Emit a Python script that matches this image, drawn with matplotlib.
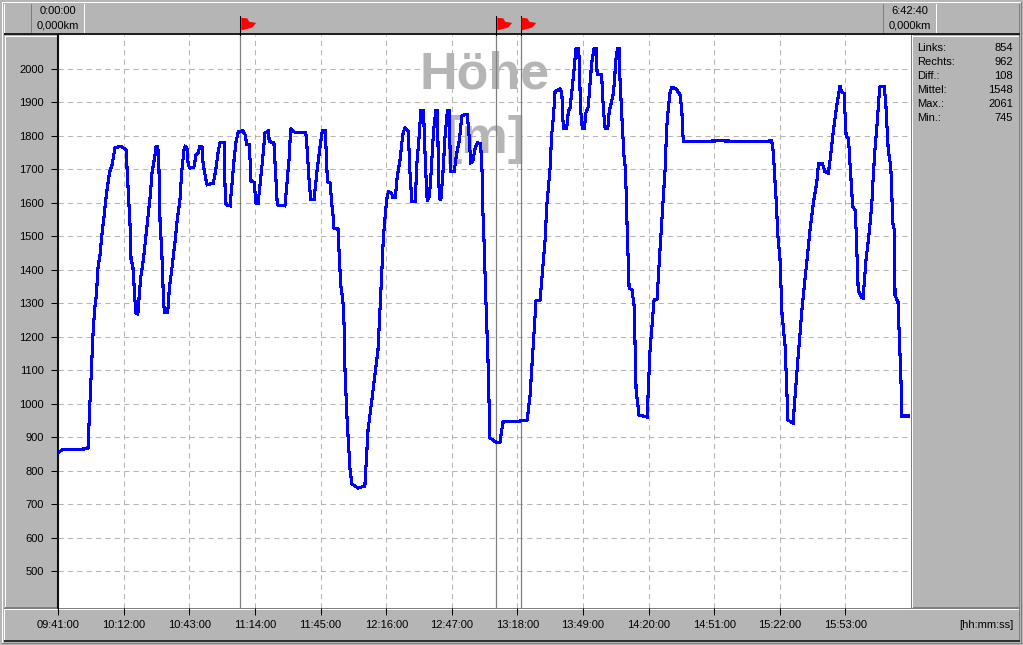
import matplotlib
matplotlib.use('Agg')
import matplotlib.pyplot as plt
from matplotlib.patches import Rectangle, Polygon

plt.rcParams['font.family'] = ['Liberation Sans', 'DejaVu Sans']

# minutes after 09:41:00
zeit = [0, 1.7, 14, 15, 16.5, 17.3, 18.1, 18.6, 19.7, 20.5, 21.6, 22.8, 24.2, 25.4, 26.8, 30, 32, 32.6, 33.3, 33.9,
        34.4, 35.2, 36.1, 36.6, 37.6, 38.2, 39, 40.2, 41.8, 43.4, 44.3, 45.7, 46.2, 47, 47.5, 48.1, 48.9, 49.6, 50.1, 51.7,
        52.5, 53.6, 55.1, 56.2, 57.5, 58.3, 59.4, 59.9, 60.8, 61.4, 62.2, 64.1, 65.1, 66.1, 66.9, 67.9, 68.5, 69.8, 70.4, 73.3,
        74.4, 75.7, 76.5, 78.4, 78.8, 79.3, 81.2, 82, 83.2, 84, 85.1, 87.2, 88.3, 89.1, 90.3, 91.1, 92.5, 93.5, 94.4, 95.4,
        96.3, 97.7, 99.3, 99.7, 101.9, 102.7, 103.5, 107.1, 108.2, 109.2, 109.8, 111.9, 117, 117.7, 118.6, 119.3, 120.9, 122.2, 123.7, 124.8,
        126.2, 127.2, 128.5, 129.3, 130, 130.3, 132.2, 132.8, 133.5, 134.5, 135.1, 135.5, 136.5, 137.9, 138.8, 141.7, 144.9, 146.4, 148.2, 151.1,
        152.5, 153.6, 154.4, 155.2, 156, 157.6, 158, 159.3, 160.2, 161.5, 162.8, 163.8, 165.4, 166.2, 167.1, 168.7, 169.5, 170.7, 171.3, 172.6,
        173.4, 174.2, 174.5, 175.4, 176.2, 177.3, 178.4, 179.2, 179.6, 180.1, 180.8, 181.7, 182.8, 183.9, 184.7, 185.2, 185.6, 187.1, 188.3, 189.6,
        190.7, 192.2, 193.3, 194.3, 194.9, 195.9, 197, 198.2, 199.6, 200.3, 200.6, 201.2, 202.1, 203.1, 204, 207.3, 208.7, 210.2, 218.3, 221.6,
        223, 225.8, 227.7, 230.1, 230.9, 232.4, 233.2, 234, 234.8, 237.2, 238, 238.7, 240.3, 241.1, 241.9, 243.4, 244.7, 246, 246.9, 247.7,
        248.6, 249.4, 250.5, 252.1, 253.2, 254.2, 254.7, 256.8, 257.6, 258.5, 259.7, 260.4, 262.4, 263.7, 264.3, 265.1, 265.5, 266.4, 267.4, 268.1,
        268.9, 269.8, 271.2, 272.2, 273.1, 274.5, 278.3, 279.7, 281.6, 283, 284.4, 286.8, 287.6, 288.4, 289.1, 289.9, 291.8, 293.9, 294.7, 295.4,
        312.8, 331.7, 337.2, 338, 338.8, 339.6, 339.9, 341.1, 342.1, 343.5, 344.9, 347.3, 349.2, 351.5, 355.3, 356.9, 358.5, 359.3, 361.2, 362.4,
        364, 364.8, 366.4, 368, 369.5, 370.2, 371.4, 372.4, 373.5, 374.3, 375.5, 376.6, 377.1, 378.1, 379.5, 380.4, 381.8, 383.4, 384.5, 385.2,
        386, 386.8, 387.9, 388.4, 390.3, 391.1, 391.6, 392.3, 393.5, 394, 394.4, 395.2, 395.5, 396.9, 398.3, 398.7, 402]
hoehe = [854, 863, 866, 1012, 1221, 1290, 1331, 1400, 1445, 1499, 1559, 1630, 1690, 1713, 1766, 1768, 1758, 1690, 1604, 1534,
         1425, 1415, 1320, 1272, 1269, 1320, 1380, 1430, 1525, 1619, 1690, 1743, 1768, 1768, 1723, 1540, 1455, 1331, 1273, 1272,
         1346, 1400, 1481, 1549, 1609, 1690, 1758, 1768, 1764, 1713, 1704, 1707, 1743, 1750, 1768, 1768, 1713, 1669, 1654, 1659,
         1699, 1758, 1780, 1780, 1649, 1594, 1591, 1649, 1738, 1783, 1813, 1815, 1803, 1773, 1773, 1664, 1662, 1597, 1597, 1659,
         1713, 1809, 1815, 1783, 1780, 1690, 1594, 1591, 1669, 1738, 1822, 1810, 1810, 1753, 1660, 1611, 1611, 1690, 1768, 1815,
         1815, 1664, 1659, 1594, 1555, 1525, 1522, 1440, 1355, 1310, 1231, 1102, 952, 803, 761, 749, 755, 922, 1012, 1161,
         1340, 1490, 1555, 1609, 1633, 1629, 1616, 1616, 1679, 1728, 1803, 1825, 1813, 1693, 1604, 1604, 1719, 1808, 1876, 1876,
         1738, 1619, 1606, 1619, 1690, 1809, 1876, 1876, 1728, 1615, 1609, 1679, 1798, 1876, 1876, 1753, 1693, 1693, 1748, 1788,
         1858, 1865, 1865, 1788, 1720, 1723, 1763, 1780, 1776, 1693, 1589, 1490, 1310, 1131, 899, 884, 884, 946, 949, 952,
         1027, 1307, 1310, 1490, 1594, 1699, 1803, 1854, 1932, 1940, 1927, 1823, 1823, 1873, 1884, 1973, 2060, 2060, 1878, 1821,
         1821, 1869, 1887, 2017, 2060, 2060, 1984, 1984, 1884, 1821, 1821, 1873, 1927, 2037, 2060, 2060, 1967, 1854, 1738, 1699,
         1519, 1346, 1340, 1290, 1042, 967, 961, 1161, 1310, 1313, 1460, 1699, 1828, 1887, 1927, 1944, 1942, 1922, 1878, 1783,
         1785, 1783, 1785, 1749, 1660, 1579, 1519, 1436, 1266, 1176, 952, 943, 1102, 1281, 1519, 1600, 1660, 1716, 1716, 1693,
         1689, 1728, 1818, 1893, 1949, 1932, 1927, 1798, 1793, 1708, 1589, 1579, 1519, 1340, 1319, 1316, 1430, 1519, 1594, 1679,
         1758, 1818, 1913, 1947, 1947, 1902, 1838, 1758, 1708, 1624, 1540, 1519, 1325, 1304, 1072, 964, 964]

x_ticks = [0, 31, 62, 93, 124, 155, 186, 217, 248, 279, 310, 341, 372]
x_labels = ['09:41:00', '10:12:00', '10:43:00', '11:14:00', '11:45:00', '12:16:00', '12:47:00',
            '13:18:00', '13:49:00', '14:20:00', '14:51:00', '15:22:00', '15:53:00']
y_ticks = [500, 600, 700, 800, 900, 1000, 1100, 1200, 1300, 1400, 1500, 1600, 1700, 1800, 1900, 2000]
marker_zeit = [86.1, 207.1, 218.5]

stat_namen = ['Links:', 'Rechts:', 'Diff.:', 'Mittel:', 'Max.:', 'Min.:']
stat_werte = ['854', '962', '108', '1548', '2061', '745']

GRAU = '#b5b5b5'
DUNKEL = '#7f7f7f'
W, H = 1023, 645
fig = plt.figure(figsize=(W / 100, H / 100), dpi=100, facecolor=GRAU)

# window frame, in pixel coordinates
bg = fig.add_axes([0, 0, 1, 1], zorder=0)
bg.set_xlim(0, W)
bg.set_ylim(H, 0)
bg.axis('off')


def balken(x, y, b, h, farbe):
    bg.add_patch(Rectangle((x, y), b, h, facecolor=farbe, edgecolor='none', antialiased=False))


# outer edge
balken(2, 2, 1019, 1, 'white')
balken(2, 2, 1, 641, 'white')
balken(1021, 2, 1, 642, DUNKEL)
balken(2, 643, 1020, 1, DUNKEL)
# top strip
balken(4, 4, 1, 29, 'white')
balken(1019, 4, 1, 30, DUNKEL)
balken(4, 33, 1016, 2, '#202020')
balken(31, 4, 1, 29, DUNKEL)
balken(84, 4, 1, 29, 'white')
balken(883, 4, 1, 29, DUNKEL)
balken(936, 4, 1, 29, 'white')
# left panel
balken(5, 36, 52, 1, 'white')
balken(5, 36, 1, 572, 'white')
balken(5, 607, 52, 1, DUNKEL)
# right panel
balken(912, 35, 1, 574, 'white')
balken(913, 36, 106, 1, 'white')
balken(913, 607, 106, 1, DUNKEL)
balken(1019, 35, 1, 573, DUNKEL)
# bottom strip
balken(4, 608, 1016, 1, DUNKEL)
balken(4, 609, 1016, 1, 'white')
balken(4, 609, 1, 32, 'white')
balken(1019, 609, 1, 32, DUNKEL)
balken(4, 640, 1016, 2, '#303030')

ax = fig.add_axes([58 / W, 1 - 608 / H, (911 - 58) / W, (608 - 35) / H], zorder=1)
ax.set_xlim(-0.15, 403.05)
ax.set_ylim(391, 2101)
ax.set_facecolor('white')

ax.text(0.5, 0.93, 'Höhe', transform=ax.transAxes, ha='center', va='center', fontsize=37.5, fontweight='bold',
        color=GRAU, zorder=1)
ax.text(0.5, 0.818, '[m]', transform=ax.transAxes, ha='center', va='center', fontsize=37.5, fontweight='bold',
        color=GRAU, zorder=1)

ax.set_xticks(x_ticks)
ax.set_xticklabels(x_labels)
ax.set_yticks(y_ticks)
ax.tick_params(axis='x', length=5, width=0.75, pad=3.5, labelsize=8, color='black')
ax.tick_params(axis='y', length=5, width=0.75, pad=5, labelsize=8, color='black')
ax.grid(True, color=GRAU, linestyle=(0, (5, 4)), linewidth=0.75, zorder=2)
ax.set_axisbelow(True)

for z in marker_zeit:
    ax.axvline(z, color=DUNKEL, lw=0.9, zorder=3)

ax.plot(zeit, hoehe, color='#0000ff', lw=1.5, antialiased=False, zorder=4, solid_joinstyle='miter')

ax.spines['top'].set_visible(False)
ax.spines['bottom'].set_visible(False)
ax.spines['right'].set_linewidth(0.75)
ax.spines['right'].set_color(DUNKEL)
ax.spines['left'].set_color('#101010')
ax.spines['left'].set_linewidth(1.5)

# flags on the upper strip, placed on the marker times
trans = ax.get_xaxis_transform()
for z in marker_zeit:
    ax.plot([z, z], [1.0, 1.033], transform=trans, color='black', lw=0.75, clip_on=False, zorder=5)
    ax.add_patch(Polygon([(z + 0.4, 1.03), (z + 3.2, 1.029), (z + 4.2, 1.023), (z + 7.4, 1.021), (z + 5.5, 1.013),
                          (z + 0.4, 1.008)], closed=True, transform=trans, color='#ff0000', lw=0,
                         clip_on=False, zorder=5))

# text in the strips
for x, a, b in [(58, '0:00:00', '0,000km'), (910, '6:42:40', '0,000km')]:
    bg.text(x, 11, a, ha='center', va='center', fontsize=8, color='black')
    bg.text(x, 25, b, ha='center', va='center', fontsize=8, color='black')

bg.text(1013, 624.5, '[hh:mm:ss]', ha='right', va='center', fontsize=8, color='black')

for i in range(len(stat_namen)):
    zeile = 48 + i * 14
    bg.text(917, zeile, stat_namen[i], ha='left', va='center', fontsize=8, color='black')
    bg.text(1013, zeile, stat_werte[i], ha='right', va='center', fontsize=8, color='black')

fig.savefig('out.png', dpi=100, facecolor=fig.get_facecolor())
